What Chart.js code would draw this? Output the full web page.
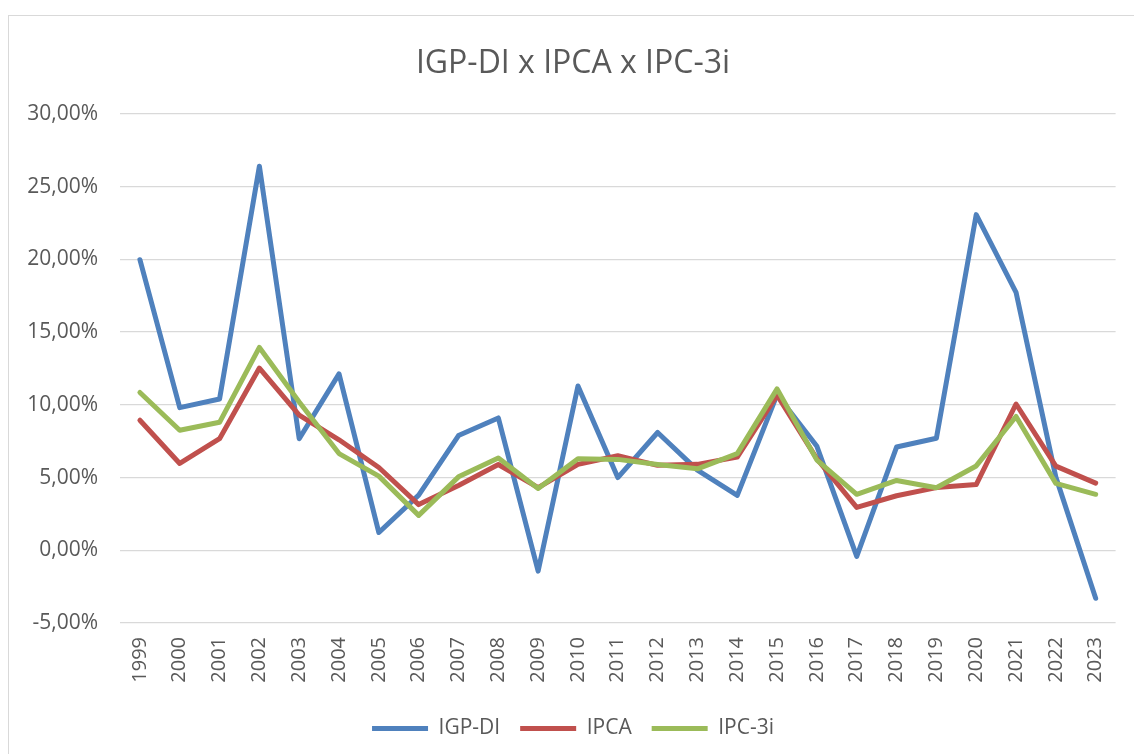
<!DOCTYPE html>
<html>
<head>
<meta charset="utf-8">
<script src="https://cdn.jsdelivr.net/npm/chart.js@4"></script>
<style>
  html, body { margin: 0; padding: 0; background: #fff; }
  #wrap { position: relative; width: 1134px; height: 754px; overflow: hidden; }
  #frame { position: absolute; left: 8px; top: 15px; width: 1140px; height: 760px;
           border: 1px solid #d9d9d9; pointer-events: none; }
  canvas { position: absolute; left: 0; top: 0; }
</style>
</head>
<body>
<div id="wrap">
  <canvas id="chart" width="1134" height="754"></canvas>
  <div id="frame"></div>
</div>
<script>
/* ================== DATA ================== */
const years = ["1999", "2000", "2001", "2002", "2003", "2004", "2005", "2006", "2007", "2008",
  "2009", "2010", "2011", "2012", "2013", "2014", "2015", "2016", "2017", "2018",
  "2019", "2020", "2021", "2022", "2023"];

// % a.a.
const igpdi = [19.98, 9.81, 10.40, 26.41, 7.67, 12.13, 1.22, 3.79, 7.89, 9.10,
  -1.43, 11.30, 5.00, 8.10, 5.51, 3.78, 10.70, 7.15, -0.42, 7.10,
  7.70, 23.08, 17.74, 5.03, -3.30];
const ipca = [8.94, 5.97, 7.67, 12.53, 9.30, 7.60, 5.69, 3.14, 4.46, 5.90,
  4.31, 5.91, 6.50, 5.84, 5.91, 6.41, 10.67, 6.29, 2.95, 3.75,
  4.31, 4.52, 10.06, 5.79, 4.62];
const ipc3i = [10.85, 8.25, 8.80, 13.95, 10.20, 6.65, 5.10, 2.40, 5.05, 6.35,
  4.25, 6.30, 6.25, 5.90, 5.60, 6.65, 11.10, 6.20, 3.85, 4.80,
  4.30, 5.80, 9.20, 4.60, 3.85];

const yTicks = { min: -5, max: 30, step: 5 };

/* ================== STYLE ================== */
const FONT = "'Open Sans', 'Liberation Sans', sans-serif";
const TEXT = "#595959";
const GRID = "#d9d9d9";

function fmtPct(v) {
  return v.toFixed(2).replace(".", ",") + "%";
}

function line(label, data, color, order) {
  return {
    label, data, order,
    borderColor: color,
    backgroundColor: color,
    borderWidth: 5,
    borderCapStyle: "round",
    borderJoinStyle: "round",
    pointRadius: 0,
    pointHoverRadius: 0,
    tension: 0,
    fill: false
  };
}

/* ================== CHART ================== */
new Chart(document.getElementById("chart"), {
  type: "line",
  data: {
    labels: years,
    datasets: [
      line("IGP-DI", igpdi, "#4f81bd", 2),
      line("IPCA", ipca, "#c0504d", 1),
      line("IPC-3i", ipc3i, "#9bbb59", 0)
    ]
  },
  options: {
    responsive: false,
    animation: false,
    layout: { padding: { left: 12, right: 0, top: 0, bottom: 5 } },
    plugins: {
      title: {
        display: true,
        text: "IGP-DI x IPCA x IPC-3i",
        color: TEXT,
        font: { family: FONT, size: 32, weight: "normal" },
        padding: { top: 45, bottom: 30.6 }
      },
      legend: {
        position: "bottom",
        labels: {
          color: TEXT,
          font: { family: FONT, size: 21 },
          usePointStyle: true,
          pointStyle: "line",
          pointStyleWidth: 56,
          boxHeight: 18,
          padding: 20,
          sort: (a, b) => a.datasetIndex - b.datasetIndex
        }
      },
      tooltip: { enabled: false }
    },
    scales: {
      x: {
        offset: true,
        grid: { display: false, drawTicks: false },
        border: { display: false },
        ticks: {
          color: TEXT,
          font: { family: FONT, size: 20 },
          minRotation: 90,
          maxRotation: 90,
          padding: 14,
          autoSkip: false
        },
        afterFit: s => { s.height = 75; }
      },
      y: {
        min: yTicks.min,
        max: yTicks.max,
        grid: { color: GRID, lineWidth: 1.3, drawTicks: false },
        border: { display: false },
        ticks: {
          stepSize: yTicks.step,
          color: TEXT,
          font: { family: FONT, size: 21 },
          padding: 22,
          callback: v => fmtPct(v)
        },
        afterFit: s => { s.width = 108; }
      },
      // spacer on the right so the title stays centred like the original
      y2: {
        position: "right",
        display: true,
        grid: { display: false, drawTicks: false },
        border: { display: false },
        ticks: { display: false },
        afterFit: s => { s.width = 16; }
      }
    }
  }
});
</script>
</body>
</html>
